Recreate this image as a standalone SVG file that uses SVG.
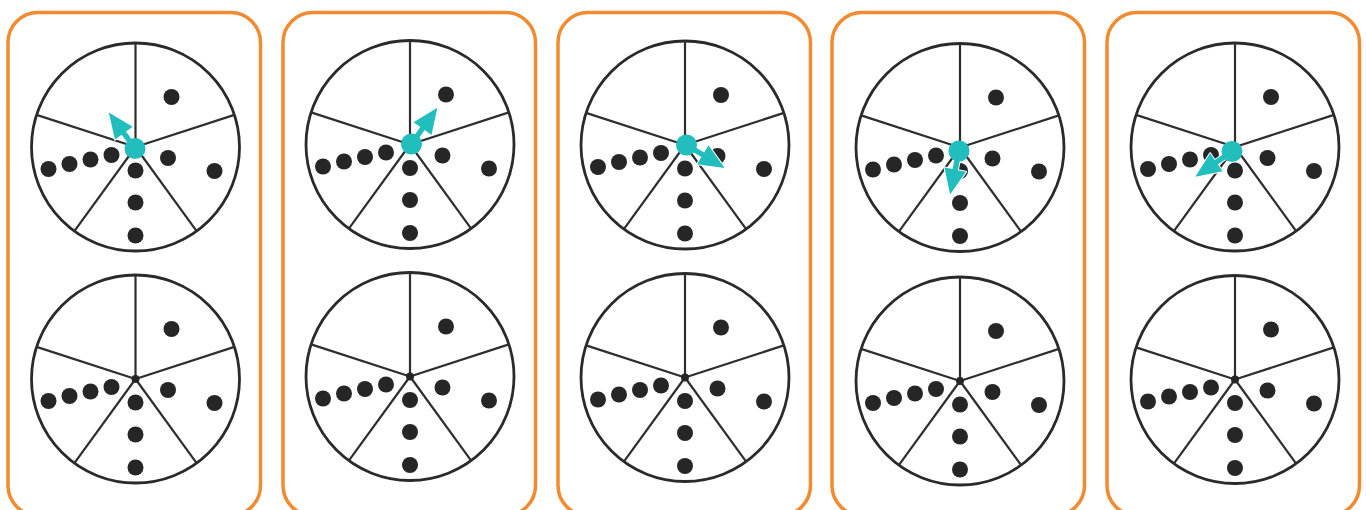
<svg xmlns="http://www.w3.org/2000/svg" xmlns:xlink="http://www.w3.org/1999/xlink" width="1367" height="510" viewBox="0 0 1367 510">
  <style>
    .panel { fill: #ffffff; stroke: #F28A30; stroke-width: 3.5; }
    .rim { fill: #ffffff; stroke: #2a2a2a; stroke-width: 2.8; }
    .spoke { stroke: #2e2e2e; stroke-width: 2.2; }
    .dot { fill: #262626; }
    .hub { fill: #22BDBD; }
    .pin { fill: #262626; }
    .arrow { fill: #22BDBD; stroke: #ffffff; stroke-width: 2; paint-order: stroke; stroke-linejoin: round; }
  </style>
  <defs>
    <g id="wheel">
      <circle class="rim" r="104"/>
      <line class="spoke" x1="0" y1="0" x2="0" y2="-104"/>
      <line class="spoke" x1="0" y1="0" x2="98.91" y2="-32.14"/>
      <line class="spoke" x1="0" y1="0" x2="61.13" y2="84.14"/>
      <line class="spoke" x1="0" y1="0" x2="-61.13" y2="84.14"/>
      <line class="spoke" x1="0" y1="0" x2="-98.91" y2="-32.14"/>
      <circle class="dot" cx="36" cy="-50" r="8"/>
      <circle class="dot" cx="-87" cy="22" r="8"/>
      <circle class="dot" cx="-66" cy="17" r="8"/>
      <circle class="dot" cx="-45" cy="12.5" r="8"/>
      <circle class="dot" cx="-24" cy="8" r="8"/>
      <circle class="dot" cx="32.5" cy="11" r="8"/>
      <circle class="dot" cx="79" cy="24" r="8"/>
      <circle class="dot" cx="0" cy="23.5" r="8"/>
      <circle class="dot" cx="0" cy="55.5" r="8"/>
      <circle class="dot" cx="0" cy="88.5" r="8"/>
    </g>
    <path id="pointer" class="arrow" d="M -2.7 0 L -2.7 -19 L -11 -19 L 0 -44.5 L 11 -19 L 2.7 -19 L 2.7 0 Z"/>
  </defs>

  <g id="panel-1">
    <rect class="panel" x="8" y="12.5" width="252.5" height="503" rx="30"/>
    <use xlink:href="#wheel" href="#wheel" transform="translate(135.5,147)"/>
    <use xlink:href="#pointer" href="#pointer" transform="translate(135,148.5) rotate(-36)"/>
    <circle class="hub" cx="135" cy="148.5" r="10.5"/>
    <use xlink:href="#wheel" href="#wheel" transform="translate(135.5,379)"/>
    <circle class="pin" cx="135.5" cy="379" r="4"/>
  </g>

  <g id="panel-2">
    <rect class="panel" x="283" y="12.5" width="252.5" height="503" rx="30"/>
    <use xlink:href="#wheel" href="#wheel" transform="translate(410,144.5)"/>
    <use xlink:href="#pointer" href="#pointer" transform="translate(411.5,144) rotate(35.5)"/>
    <circle class="hub" cx="411.5" cy="144" r="10.5"/>
    <use xlink:href="#wheel" href="#wheel" transform="translate(410,376.5)"/>
    <circle class="pin" cx="410" cy="376.5" r="4"/>
  </g>

  <g id="panel-3">
    <rect class="panel" x="558" y="12.5" width="252.5" height="503" rx="30"/>
    <use xlink:href="#wheel" href="#wheel" transform="translate(685,145)"/>
    <use xlink:href="#pointer" href="#pointer" transform="translate(686.5,145) rotate(121)"/>
    <circle class="hub" cx="686.5" cy="145" r="10.5"/>
    <use xlink:href="#wheel" href="#wheel" transform="translate(685,377.5)"/>
    <circle class="pin" cx="685" cy="377.5" r="4"/>
  </g>

  <g id="panel-4">
    <rect class="panel" x="832" y="12.5" width="252.5" height="503" rx="30"/>
    <use xlink:href="#wheel" href="#wheel" transform="translate(960,147.5)"/>
    <use xlink:href="#pointer" href="#pointer" transform="translate(959,151) rotate(191.5)"/>
    <circle class="hub" cx="959" cy="151" r="10.5"/>
    <use xlink:href="#wheel" href="#wheel" transform="translate(960,381)"/>
    <circle class="pin" cx="960" cy="381" r="4"/>
  </g>

  <g id="panel-5">
    <rect class="panel" x="1107" y="12.5" width="252.5" height="503" rx="30"/>
    <use xlink:href="#wheel" href="#wheel" transform="translate(1235,147)"/>
    <use xlink:href="#pointer" href="#pointer" transform="translate(1232,151.5) rotate(-124.5)"/>
    <circle class="hub" cx="1232" cy="151.5" r="10.5"/>
    <use xlink:href="#wheel" href="#wheel" transform="translate(1235,379.5)"/>
    <circle class="pin" cx="1235" cy="379.5" r="4"/>
  </g>
</svg>
